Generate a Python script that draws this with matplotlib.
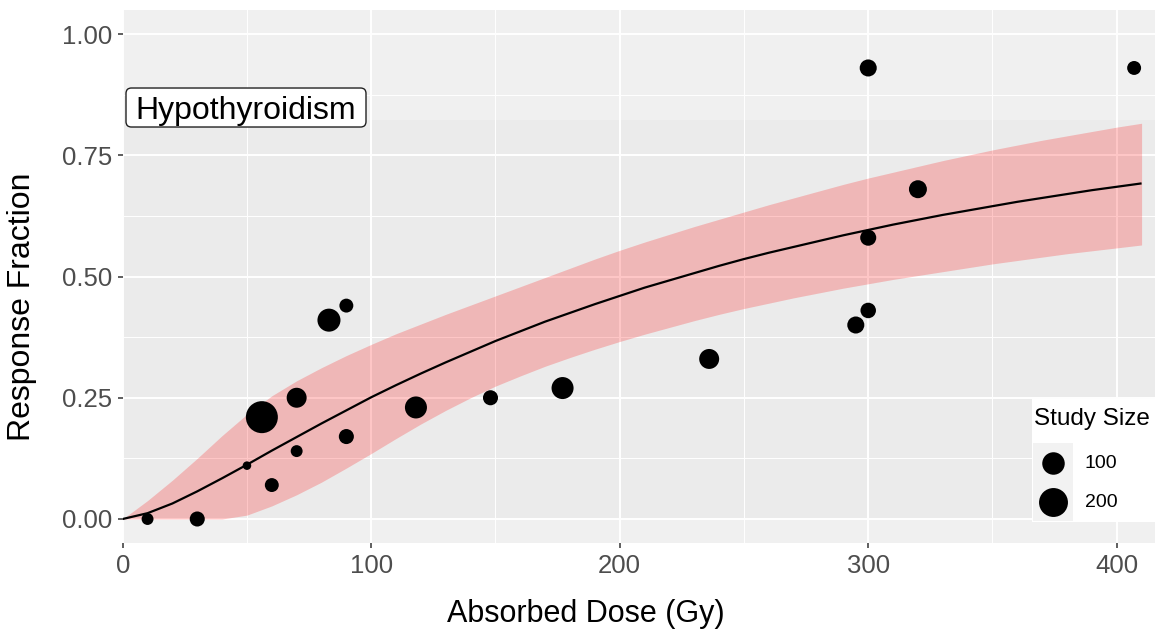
import numpy as np
import matplotlib
matplotlib.use("Agg")
import matplotlib.pyplot as plt
from matplotlib.patches import Rectangle, FancyBboxPatch

plt.rcParams['font.family'] = ['Liberation Sans', 'DejaVu Sans']

# ---------------- data ----------------
dose = [10, 30, 50, 56, 60, 70, 70, 83, 90, 90, 118, 148, 177, 236, 295, 300, 300, 300, 320, 407]
response = [0.00, 0.00, 0.11, 0.21, 0.07, 0.25, 0.14, 0.41, 0.44, 0.17, 0.23, 0.25, 0.27, 0.33, 0.40, 0.93, 0.58, 0.43, 0.68, 0.93]
study_size = [10, 27, 1, 260, 20, 70, 10, 107, 20, 27, 94, 27, 94, 70, 42, 42, 34, 30, 50, 20]

fit_x = [0, 10, 20, 30, 40, 50, 60, 70, 80, 90, 100, 110, 120, 130, 140, 150, 160, 170, 180, 190,
         200, 210, 220, 230, 240, 250, 260, 270, 280, 290, 300, 310, 320, 330, 340, 350, 360, 370,
         380, 390, 400, 410]
fit_y = [0.0, 0.012, 0.032, 0.057, 0.084, 0.112, 0.141, 0.169, 0.197, 0.224, 0.251, 0.276, 0.300,
         0.323, 0.345, 0.367, 0.387, 0.407, 0.425, 0.443, 0.460, 0.477, 0.492, 0.507, 0.522, 0.536,
         0.549, 0.561, 0.573, 0.585, 0.596, 0.607, 0.617, 0.627, 0.636, 0.645, 0.654, 0.662, 0.670,
         0.678, 0.685, 0.692]
band_lower = [0.0, 0.0, 0.0, 0.0, 0.0, 0.008, 0.027, 0.050, 0.076, 0.105, 0.135, 0.166, 0.196,
              0.224, 0.250, 0.274, 0.295, 0.315, 0.333, 0.350, 0.366, 0.381, 0.395, 0.409, 0.422,
              0.434, 0.445, 0.456, 0.466, 0.476, 0.485, 0.494, 0.502, 0.510, 0.518, 0.526, 0.533,
              0.540, 0.547, 0.553, 0.559, 0.565]
band_upper = [0.0, 0.038, 0.080, 0.125, 0.172, 0.216, 0.254, 0.285, 0.312, 0.337, 0.360, 0.382,
              0.402, 0.422, 0.441, 0.460, 0.479, 0.498, 0.517, 0.536, 0.554, 0.571, 0.587, 0.603,
              0.618, 0.633, 0.648, 0.662, 0.676, 0.690, 0.703, 0.715, 0.727, 0.739, 0.750, 0.761,
              0.771, 0.781, 0.790, 0.799, 0.808, 0.816]

x_ticks = [0, 100, 200, 300, 400]
y_ticks = [0.00, 0.25, 0.50, 0.75, 1.00]
y_ticklabels = ["0.00", "0.25", "0.50", "0.75", "1.00"]
legend_sizes = [100, 200]

label_text = "Hypothyroidism"
x_title = "Absorbed Dose (Gy)"
y_title = "Response Fraction"
legend_title = "Study Size"

# ---------------- helpers ----------------
def marker_area(n):
    d_px = 7 + 1.55 * np.sqrt(np.asarray(n, dtype=float))
    return (d_px * 0.72) ** 2

W, H = 1155, 630
fig = plt.figure(figsize=(W / 100, H / 100), dpi=100)
ax_left = 122.7 / W
ax = fig.add_axes([ax_left, 0.1377, 1 - ax_left, 0.8468])

XMAX = 415.4
ax.set_xlim(0, XMAX)
ax.set_ylim(-0.05, 1.05)
ax.set_facecolor('#EBEBEB')
for s in ax.spines.values():
    s.set_visible(False)

# lighter bands seen in the reference panel
ax.axhspan(0.823, 1.05, color='#F0F0F0', zorder=0.5, lw=0)
ax.axhspan(-0.05, 0.0, color='#F0F0F0', zorder=0.5, lw=0)

# grid
ax.set_xticks(x_ticks)
ax.set_yticks(y_ticks)
ax.set_yticklabels(y_ticklabels)
ax.set_xticks([50, 150, 250, 350], minor=True)
ax.set_yticks([0.125, 0.375, 0.625, 0.875], minor=True)
ax.grid(which='major', color='white', linewidth=1.4, zorder=1)
ax.grid(which='minor', color='white', linewidth=0.7, zorder=1)
ax.set_axisbelow(True)
ax.tick_params(which='major', length=3.5, width=1.1, color='#333333',
               labelcolor='#4D4D4D', labelsize=18.5, pad=4)
ax.tick_params(which='minor', length=0)

# band and curve
ax.fill_between(fit_x, band_lower, band_upper, color='#FF0000', alpha=0.22, lw=0, zorder=2)
ax.plot(fit_x, fit_y, color='black', lw=1.6, zorder=3, solid_capstyle='butt')

# points
ax.scatter(dose, response, s=marker_area(study_size), color='black', linewidths=0, zorder=4)

# annotation label with rounded box
px_per_x = 1032.3 / XMAX
px_per_y = 533.5 / 1.10
def dx(px):
    return (px - 122.7) / px_per_x
def dy(py):
    return (519.0 - py) / px_per_y

bx0, bx1 = dx(126), dx(366)
by0, by1 = dy(127), dy(88)
box = FancyBboxPatch((bx0, by0), bx1 - bx0, by1 - by0,
                     boxstyle='round,pad=0,rounding_size=2.2',
                     mutation_aspect=px_per_x / px_per_y,
                     fc='white', ec='#222222', lw=1.0, zorder=5)
ax.add_patch(box)
ax.text((bx0 + bx1) / 2, dy(118.5), label_text, ha='center', va='baseline',
        fontsize=23, color='black', zorder=6)

# axis titles
fig.text(586 / W, 1 - 614 / H, x_title, ha='center', va='center', fontsize=22)
fig.text(22 / W, 1 - 306.7 / H, y_title, ha='center', va='center', rotation=90, fontsize=23)

# legend (drawn inside the panel, bottom right)
def ax_xy(px, py):
    return ((px - 122.7) / 1032.3, (543.25 - py) / 533.5)

x0, y0 = ax_xy(1032, 522)
x1, y1 = ax_xy(1155, 399)
ax.add_patch(Rectangle((x0, y0), x1 - x0, y1 - y0, transform=ax.transAxes,
                       fc='white', ec='none', zorder=6))
kx0, ky0 = ax_xy(1033, 521)
kx1, ky1 = ax_xy(1073, 443)
ax.add_patch(Rectangle((kx0, ky0), kx1 - kx0, ky1 - ky0, transform=ax.transAxes,
                       fc='#F2F2F2', ec='none', zorder=7))
tx, ty = ax_xy(1034, 419)
ax.text(tx, ty, legend_title, transform=ax.transAxes, ha='left', va='center',
        fontsize=17.5, color='black', zorder=8)
key_px_y = [463, 502]
for n, py in zip(legend_sizes, key_px_y):
    cx, cy = ax_xy(1053, py)
    ax.scatter([cx], [cy], s=marker_area([n]), color='black', linewidths=0,
               transform=ax.transAxes, zorder=8, clip_on=False)
    lx, ly = ax_xy(1085, py)
    ax.text(lx, ly, str(n), transform=ax.transAxes, ha='left', va='center',
            fontsize=14, color='black', zorder=8)

fig.savefig('out.png', dpi=100, facecolor='white')
